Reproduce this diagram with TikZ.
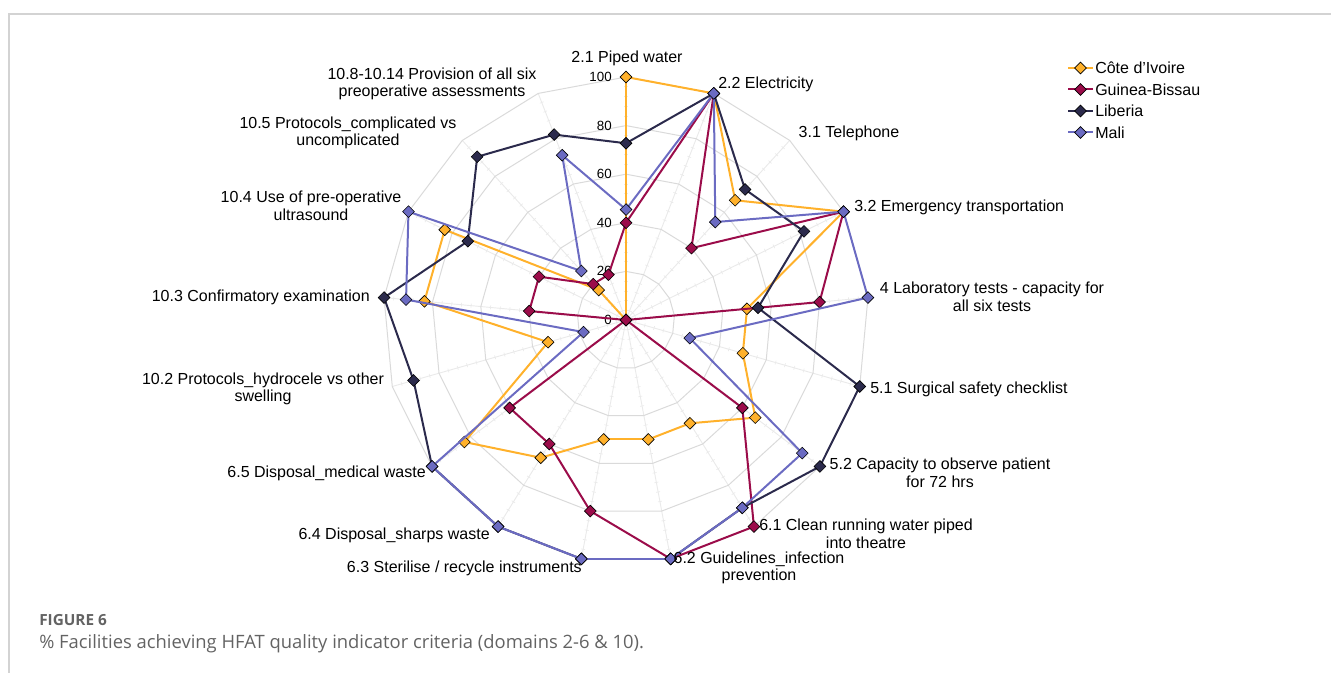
\documentclass[tikz,border=0pt]{standalone}
\usepackage{fontspec}
\setmainfont{Liberation Sans}
\newfontfamily\capfont{Open Sans}
\usetikzlibrary{shapes.geometric,calc}
\definecolor{ciC}{HTML}{FFB12B}
\definecolor{gbC}{HTML}{9B0C4A}
\definecolor{lbC}{HTML}{2B2A4C}
\definecolor{mlC}{HTML}{6B6BC2}
\definecolor{gridC}{HTML}{DADADA}
\definecolor{spokeC}{HTML}{EAEAEA}
\definecolor{frameC}{HTML}{D3D3D3}
\definecolor{capC}{HTML}{636363}
\begin{document}
\begin{tikzpicture}[x=0.75pt,y=-0.75pt,
  mk/.style={diamond, draw=black, line width=0.45pt, inner sep=0pt, minimum size=9pt, fill=#1},
  ser/.style={draw=#1, line width=1.5pt, line cap=round},
  lab/.style={font=\fontsize{12}{13.2}\selectfont, inner sep=0pt, align=center},
  tk/.style={font=\fontsize{10}{11}\selectfont, anchor=east, inner sep=0pt},
  captxt/.style={text=capC, anchor=base west, inner sep=0pt},
]
\useasboundingbox (0,0) rectangle (1331,673);
\coordinate (C) at (626,320);
% frame
\draw[frameC, line width=1.1pt] (9,673) -- (9,14) -- (1331,14);
% spokes and minor ticks
\foreach \k in {0,...,16} {
  \pgfmathsetmacro{\a}{\k*360/17-90}
  \draw[spokeC, line width=0.7pt] (C) -- ($(C)+(\a:243)$);
  \foreach \m in {1,2,3,4,6,7,8,9,11,12,13,14,16,17,18,19,21,22,23,24} {
    \draw[spokeC, line width=0.5pt] ($(C)+(\a:{2.43*\m*4})+(\a+90:2)$) -- ($(C)+(\a:{2.43*\m*4})+(\a-90:2)$);
  }
}
% rings
\foreach \r in {20,40,60,80,100} {
  \draw[gridC, line width=0.75pt] ($(C)+(-90:{2.43*\r})$)
    \foreach \k in {1,...,16} { -- ($(C)+({\k*360/17-90}:{2.43*\r})$) } -- cycle;
}
% tick labels
\foreach \v in {0,20,40,60,80,100} \node[tk] (t\v) at (612,{320-2.43*\v}) {\v};
% series: name prefix / colour / values
\foreach \p/\c/\vals in {
  ci/ciC/{100,100,66.67,100,50,50,66.67,50,50,50,66.67,83.33,33.33,83.33,83.33,16.67,0},
  gb/gbC/{40,100,40,100,80,0,60,100,100,80,60,60,0,40,40,20,20},
  lb/lbC/{72.73,100,72.73,81.82,54.55,100,100,90.91,100,100,100,100,90.91,100,72.73,90.91,81.82},
  ml/mlC/{45.45,100,54.55,100,100,27.27,90.91,90.91,100,100,100,100,18.18,90.91,100,27.27,72.73}} {
  \foreach \v [count=\k from 0] in \vals
    \coordinate (\p p\k) at ($(C)+({\k*360/17-90}:{2.43*\v})$);
  \foreach \k in {0,...,16} {
    \pgfmathtruncatemacro{\j}{mod(\k+1,17)}
    \draw[ser=\c] (\p p\k) -- (\p p\j);
  }
  \foreach \k in {0,...,16}
    \node[mk=\c] (\p\k) at (\p p\k) {};
}
% axis labels
\node[lab] (L0) at (627,58) {2.1 Piped water};
\node[lab, anchor=west] (L1) at (718,84) {2.2 Electricity};
\node[lab] (L2) at (849,133) {3.1 Telephone};
\node[lab, anchor=west] (L3) at (854,207) {3.2 Emergency transportation};
\node[lab] (L4) at (992,297) {4 Laboratory tests - capacity for\\all six tests};
\node[lab, anchor=west] (L5) at (870,389) {5.1 Surgical safety checklist};
\node[lab] (L6) at (940,473) {5.2 Capacity to observe patient\\for 72 hrs};
\node[lab] (L7) at (866,534) {6.1 Clean running water piped\\into theatre};
\node[lab] (L8) at (759,568) {6.2 Guidelines\_infection\\prevention};
\node[lab, anchor=east] (L9) at (582,568) {6.3 Sterilise / recycle instruments};
\node[lab, anchor=east] (L10) at (490,535) {6.4 Disposal\_sharps waste};
\node[lab, anchor=east] (L11) at (426,473) {6.5 Disposal\_medical waste};
\node[lab] (L12) at (263,389) {10.2 Protocols\_hydrocele vs other\\swelling};
\node[lab, anchor=east] (L13) at (370,297) {10.3 Confirmatory examination};
\node[lab] (L14) at (311,206) {10.4 Use of pre-operative\\ultrasound};
\node[lab] (L15) at (348,133) {10.5 Protocols\_complicated vs\\uncomplicated};
\node[lab] (L16) at (432,84) {10.8-10.14 Provision of all six\\preoperative assessments};
% legend
\foreach \n/\c [count=\i from 0] in {C\^{o}te d'Ivoire/ciC, Guinea-Bissau/gbC, Liberia/lbC, Mali/mlC} {
  \coordinate (lgA\i) at (1068,{68+21.5*\i});
  \coordinate (lgB\i) at (1093,{68+21.5*\i});
  \draw[\c, line width=1.5pt] (lgA\i) -- (lgB\i);
  \node[mk=\c] (lgM\i) at ($(lgA\i)!0.5!(lgB\i)$) {};
  \node[lab, anchor=west] (lgT\i) at (1095,{68+21.5*\i}) {\n};
}
% caption
\node[captxt, font=\capfont\bfseries\fontsize{11.5}{13}\selectfont] (fig) at (39,625) {FIGURE 6};
\node[captxt, font=\capfont\fontsize{13.8}{15}\selectfont] (capt) at (39,648) {\% Facilities achieving HFAT quality indicator criteria (domains 2-6 \& 10).};
\end{tikzpicture}
\end{document}
